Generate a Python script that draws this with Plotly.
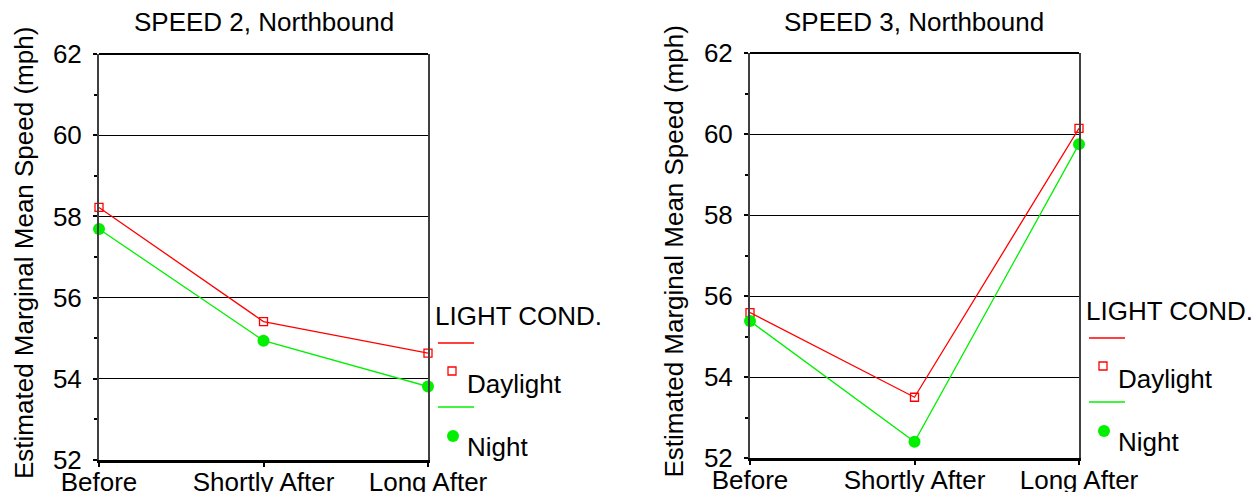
import plotly.graph_objects as go

# ---- data ----
categories = ["Before", "Shortly After", "Long After"]
speed2_daylight = [58.22, 55.41, 54.63]
speed2_night = [57.69, 54.94, 53.81]
speed3_daylight = [55.59, 53.50, 60.14]
speed3_night = [55.38, 52.40, 59.75]
panel_titles = ["SPEED 2, Northbound", "SPEED 3, Northbound"]
y_title = "Estimated Marginal Mean Speed (mph)"
legend_title = "LIGHT COND."
series_names = ["Daylight", "Night"]

W, H = 1255, 492
FONT = "Liberation Sans, Arial, sans-serif"
FS = 26
RED = "#ff0000"
GREEN = "#00f000"


def px(x):
    return x / W


def py(y):
    return 1 - y / H


# pixel boxes of the two plot areas: (left, right, top, bottom)
panels = [(99, 428, 54, 460), (750, 1079, 53, 458)]
data = [(speed2_daylight, speed2_night), (speed3_daylight, speed3_night)]

fig = go.Figure()
annotations = []
shapes = []

for i, ((l, r, t, b), (day, night)) in enumerate(zip(panels, data)):
    ax = "" if i == 0 else str(i + 1)
    xa, ya = "x" + ax, "y" + ax
    fig.add_trace(go.Scatter(
        x=categories, y=day, xaxis=xa, yaxis=ya, mode="lines+markers",
        name=series_names[0], showlegend=False, cliponaxis=False,
        line=dict(color=RED, width=1.3),
        marker=dict(symbol="square-open", size=8, color=RED, line=dict(width=1.3, color=RED)),
    ))
    fig.add_trace(go.Scatter(
        x=categories, y=night, xaxis=xa, yaxis=ya, mode="lines+markers",
        name=series_names[1], showlegend=False, cliponaxis=False,
        line=dict(color=GREEN, width=1.3),
        marker=dict(symbol="circle", size=12, color=GREEN),
    ))
    fig.update_layout(**{
        "xaxis" + ax: dict(
            domain=[px(l), px(r)], anchor=ya, type="category", range=[0, 2],
            showline=True, linewidth=3, linecolor="black", mirror=False,
            ticks="outside", ticklen=4, tickwidth=2, tickcolor="black",
            showgrid=False, zeroline=False, fixedrange=True, automargin=False,
            ticklabelstandoff=-7,
            tickfont=dict(family=FONT, size=FS, color="black"),
        ),
        "yaxis" + ax: dict(
            domain=[py(b), py(t)], anchor=xa, range=[52, 62], tick0=52, dtick=2,
            showline=True, linewidth=2, linecolor="#404040", mirror=True,
            ticks="outside", ticklen=4, tickwidth=2, tickcolor="black",
            showgrid=True, gridcolor="black", gridwidth=1, zeroline=False,
            minor=dict(dtick=1, ticks="outside", ticklen=3, tickwidth=1.5,
                       tickcolor="black", showgrid=False),
            fixedrange=True, ticklabelstandoff=6, automargin=False,
            tickfont=dict(family=FONT, size=FS, color="black"),
        ),
    })
    # top border
    shapes.append(dict(type="line", xref="paper", yref="paper",
                       x0=px(l), x1=px(r), y0=py(t), y1=py(t),
                       line=dict(color="black", width=2)))
    # title
    annotations.append(dict(text=panel_titles[i], xref="paper", yref="paper",
                            x=px((l + r) / 2), y=py(22), xanchor="center", yanchor="middle",
                            showarrow=False, font=dict(family=FONT, size=26, color="black")))
    # y-axis title
    ytx = 24 if i == 0 else 673
    annotations.append(dict(text=y_title, xref="paper", yref="paper", textangle=-90,
                            x=px(ytx), y=py((t + b) / 2 - 4), xanchor="center", yanchor="middle",
                            showarrow=False, font=dict(family=FONT, size=FS, color="black")))
    # custom legend
    dx = r - 428
    dy = 0 if i == 0 else -5
    annotations.append(dict(text=legend_title, xref="paper", yref="paper",
                            x=px(433 + dx), y=py(316 + dy), xanchor="left", yanchor="middle",
                            showarrow=False, font=dict(family=FONT, size=FS, color="black")))
    annotations.append(dict(text=series_names[0], xref="paper", yref="paper",
                            x=px(465 + dx), y=py(384 + dy), xanchor="left", yanchor="middle",
                            showarrow=False, font=dict(family=FONT, size=FS, color="black")))
    annotations.append(dict(text=series_names[1], xref="paper", yref="paper",
                            x=px(465 + dx), y=py(447 + dy), xanchor="left", yanchor="middle",
                            showarrow=False, font=dict(family=FONT, size=FS, color="black")))
    shapes.append(dict(type="line", xref="paper", yref="paper",
                       x0=px(438 + dx), x1=px(474 + dx), y0=py(343 + dy), y1=py(343 + dy),
                       line=dict(color=RED, width=1.3)))
    shapes.append(dict(type="rect", xref="paper", yref="paper",
                       x0=px(448 + dx), x1=px(456 + dx), y0=py(367 + dy), y1=py(375 + dy),
                       line=dict(color=RED, width=1.3)))
    shapes.append(dict(type="line", xref="paper", yref="paper",
                       x0=px(438 + dx), x1=px(474 + dx), y0=py(407 + dy), y1=py(407 + dy),
                       line=dict(color=GREEN, width=1.3)))
    shapes.append(dict(type="circle", xref="paper", yref="paper",
                       x0=px(447 + dx), x1=px(459 + dx), y0=py(430 + dy), y1=py(442 + dy),
                       fillcolor=GREEN, line=dict(color=GREEN, width=0)))

fig.update_layout(
    width=W, height=H, margin=dict(l=0, r=0, t=0, b=0),
    paper_bgcolor="white", plot_bgcolor="white",
    annotations=annotations, shapes=shapes, showlegend=False,
    font=dict(family=FONT, size=FS, color="black"),
)

fig.write_html("out.html", config={"displayModeBar": False})
